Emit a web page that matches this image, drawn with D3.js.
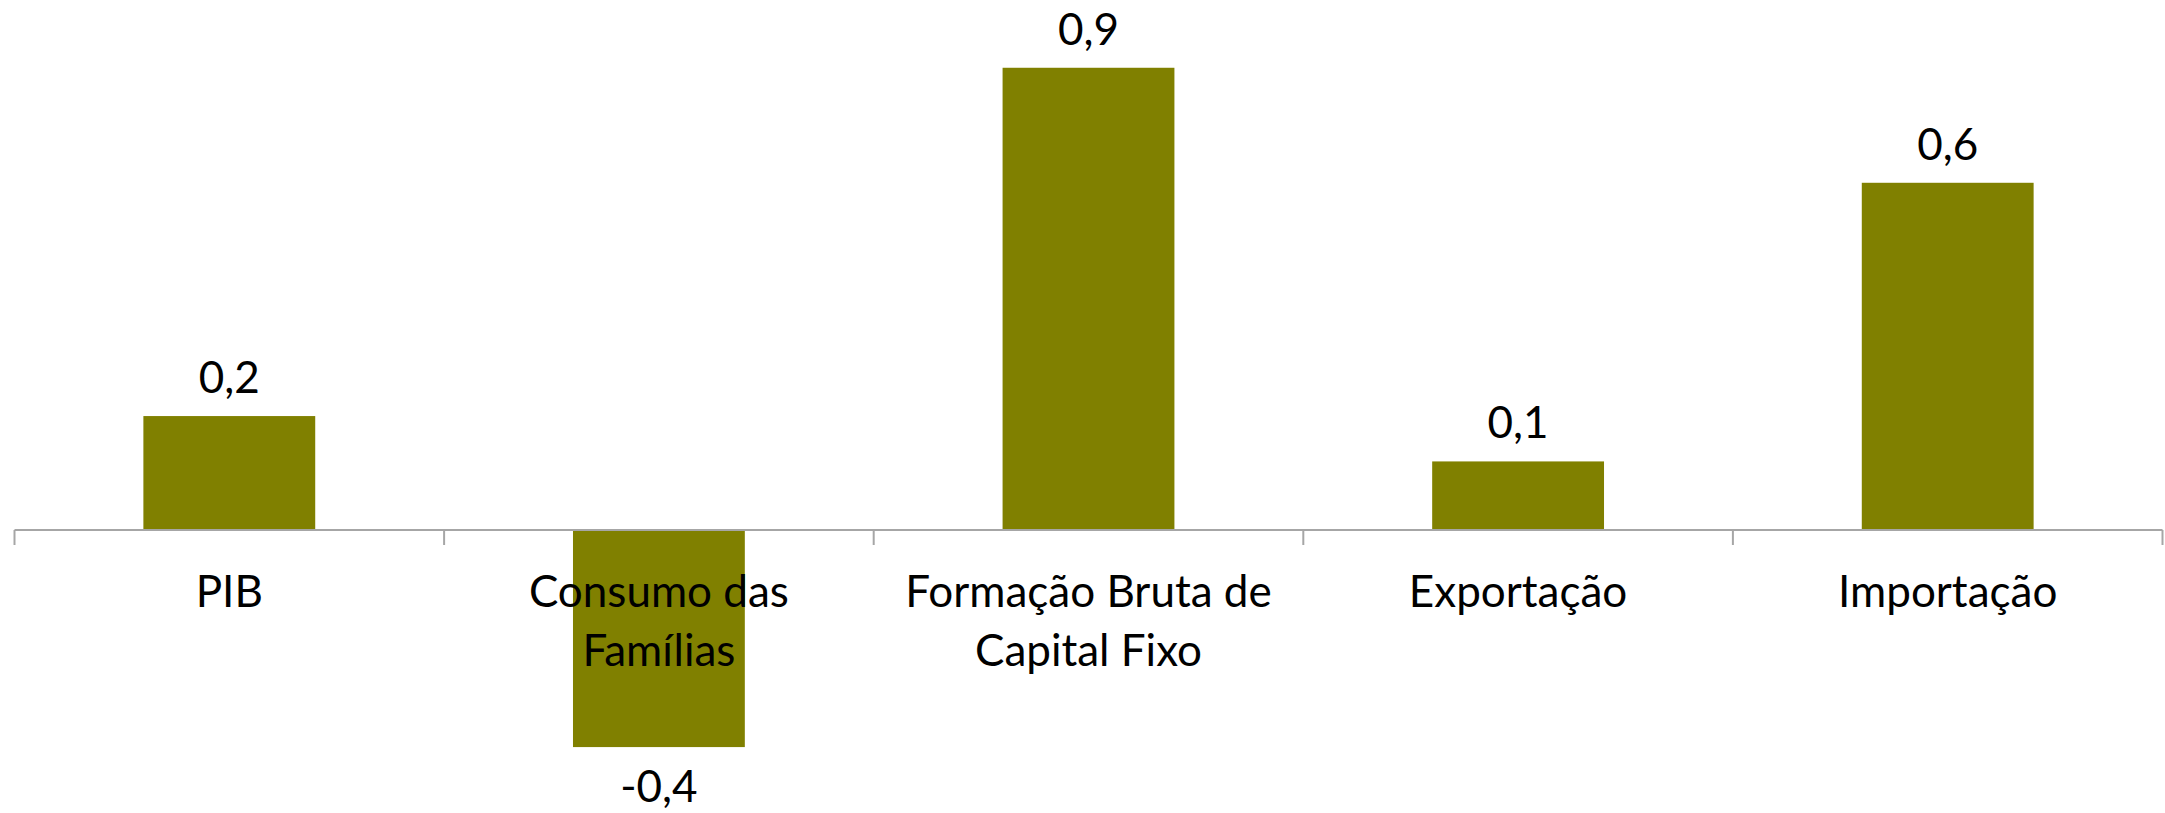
<!DOCTYPE html>
<html>
  <head>
    <meta charset="utf-8">
    <title>Contribuição ao PIB</title>
    <script type="text/javascript" src="https://d3js.org/d3.v7.min.js"></script>
    <style>
      html, body {
        margin: 0;
        background: #fff;
      }
      text {
        font-family: Lato, "Open Sans", sans-serif;
        fill: #000;
      }
    </style>
  </head>
  <body>
    <script>

    // data
    var categories = ["PIB", "Consumo das\nFamílias", "Formação Bruta de\nCapital Fixo", "Exportação", "Importação"];
    var values = [0.211, -0.402, 0.856, 0.127, 0.643];

    var width = 2165, height = 813;
    var fontSize = 44;

    var svg = d3.select("body")
                .append("svg")
                .attr("width", width)
                .attr("height", height);

    var x = d3.scaleBand()
              .domain(categories)
              .range([14.5, 2162.5])
              .padding(0);

    var y = d3.scaleLinear()
              .domain([-0.5, 1])
              .range([800, -10]);

    var barW = x.bandwidth() * 0.4;
    var fmt = function(v) { return d3.format(".1f")(v).replace(".", ",").replace("\u2212", "-"); };

    // bars
    svg.selectAll("rect.bar")
        .data(values)
        .enter()
        .append("rect")
        .attr("class", "bar")
        .attr("x", function(d, i) { return x(categories[i]) + (x.bandwidth() - barW) / 2; })
        .attr("y", function(d) { return y(Math.max(d, 0)); })
        .attr("width", barW)
        .attr("height", function(d) { return Math.abs(y(d) - y(0)); })
        .attr("fill", "#808000");

    // category axis: line plus ticks at band edges
    var axis = svg.append("g").attr("transform", "translate(0," + y(0) + ")");
    axis.append("line")
        .attr("x1", x.range()[0]).attr("x2", x.range()[1])
        .attr("stroke", "#a6a6a6").attr("stroke-width", 2);
    var edges = categories.map(function(c) { return x(c); }).concat([x.range()[1]]);
    axis.selectAll("line.tick")
        .data(edges)
        .enter()
        .append("line")
        .attr("class", "tick")
        .attr("x1", function(d) { return d; }).attr("x2", function(d) { return d; })
        .attr("y1", 0).attr("y2", 15)
        .attr("stroke", "#a6a6a6").attr("stroke-width", 2);

    // category labels
    var labels = svg.selectAll("text.cat")
        .data(categories)
        .enter()
        .append("text")
        .attr("class", "cat")
        .attr("text-anchor", "middle")
        .attr("font-size", fontSize);
    labels.each(function(c) {
      var t = d3.select(this);
      c.split("\n").forEach(function(line, j) {
        t.append("tspan")
         .attr("x", x(c) + x.bandwidth() / 2)
         .attr("y", 607 + j * 59)
         .text(line);
      });
    });

    // value labels
    svg.selectAll("text.val")
        .data(values)
        .enter()
        .append("text")
        .attr("class", "val")
        .attr("text-anchor", "middle")
        .attr("font-size", fontSize)
        .attr("x", function(d, i) { return x(categories[i]) + x.bandwidth() / 2; })
        .attr("y", function(d) { return d >= 0 ? y(d) - 23 : y(d) + 55; })
        .text(function(d) { return fmt(d); });

    </script>
  </body>
</html>
